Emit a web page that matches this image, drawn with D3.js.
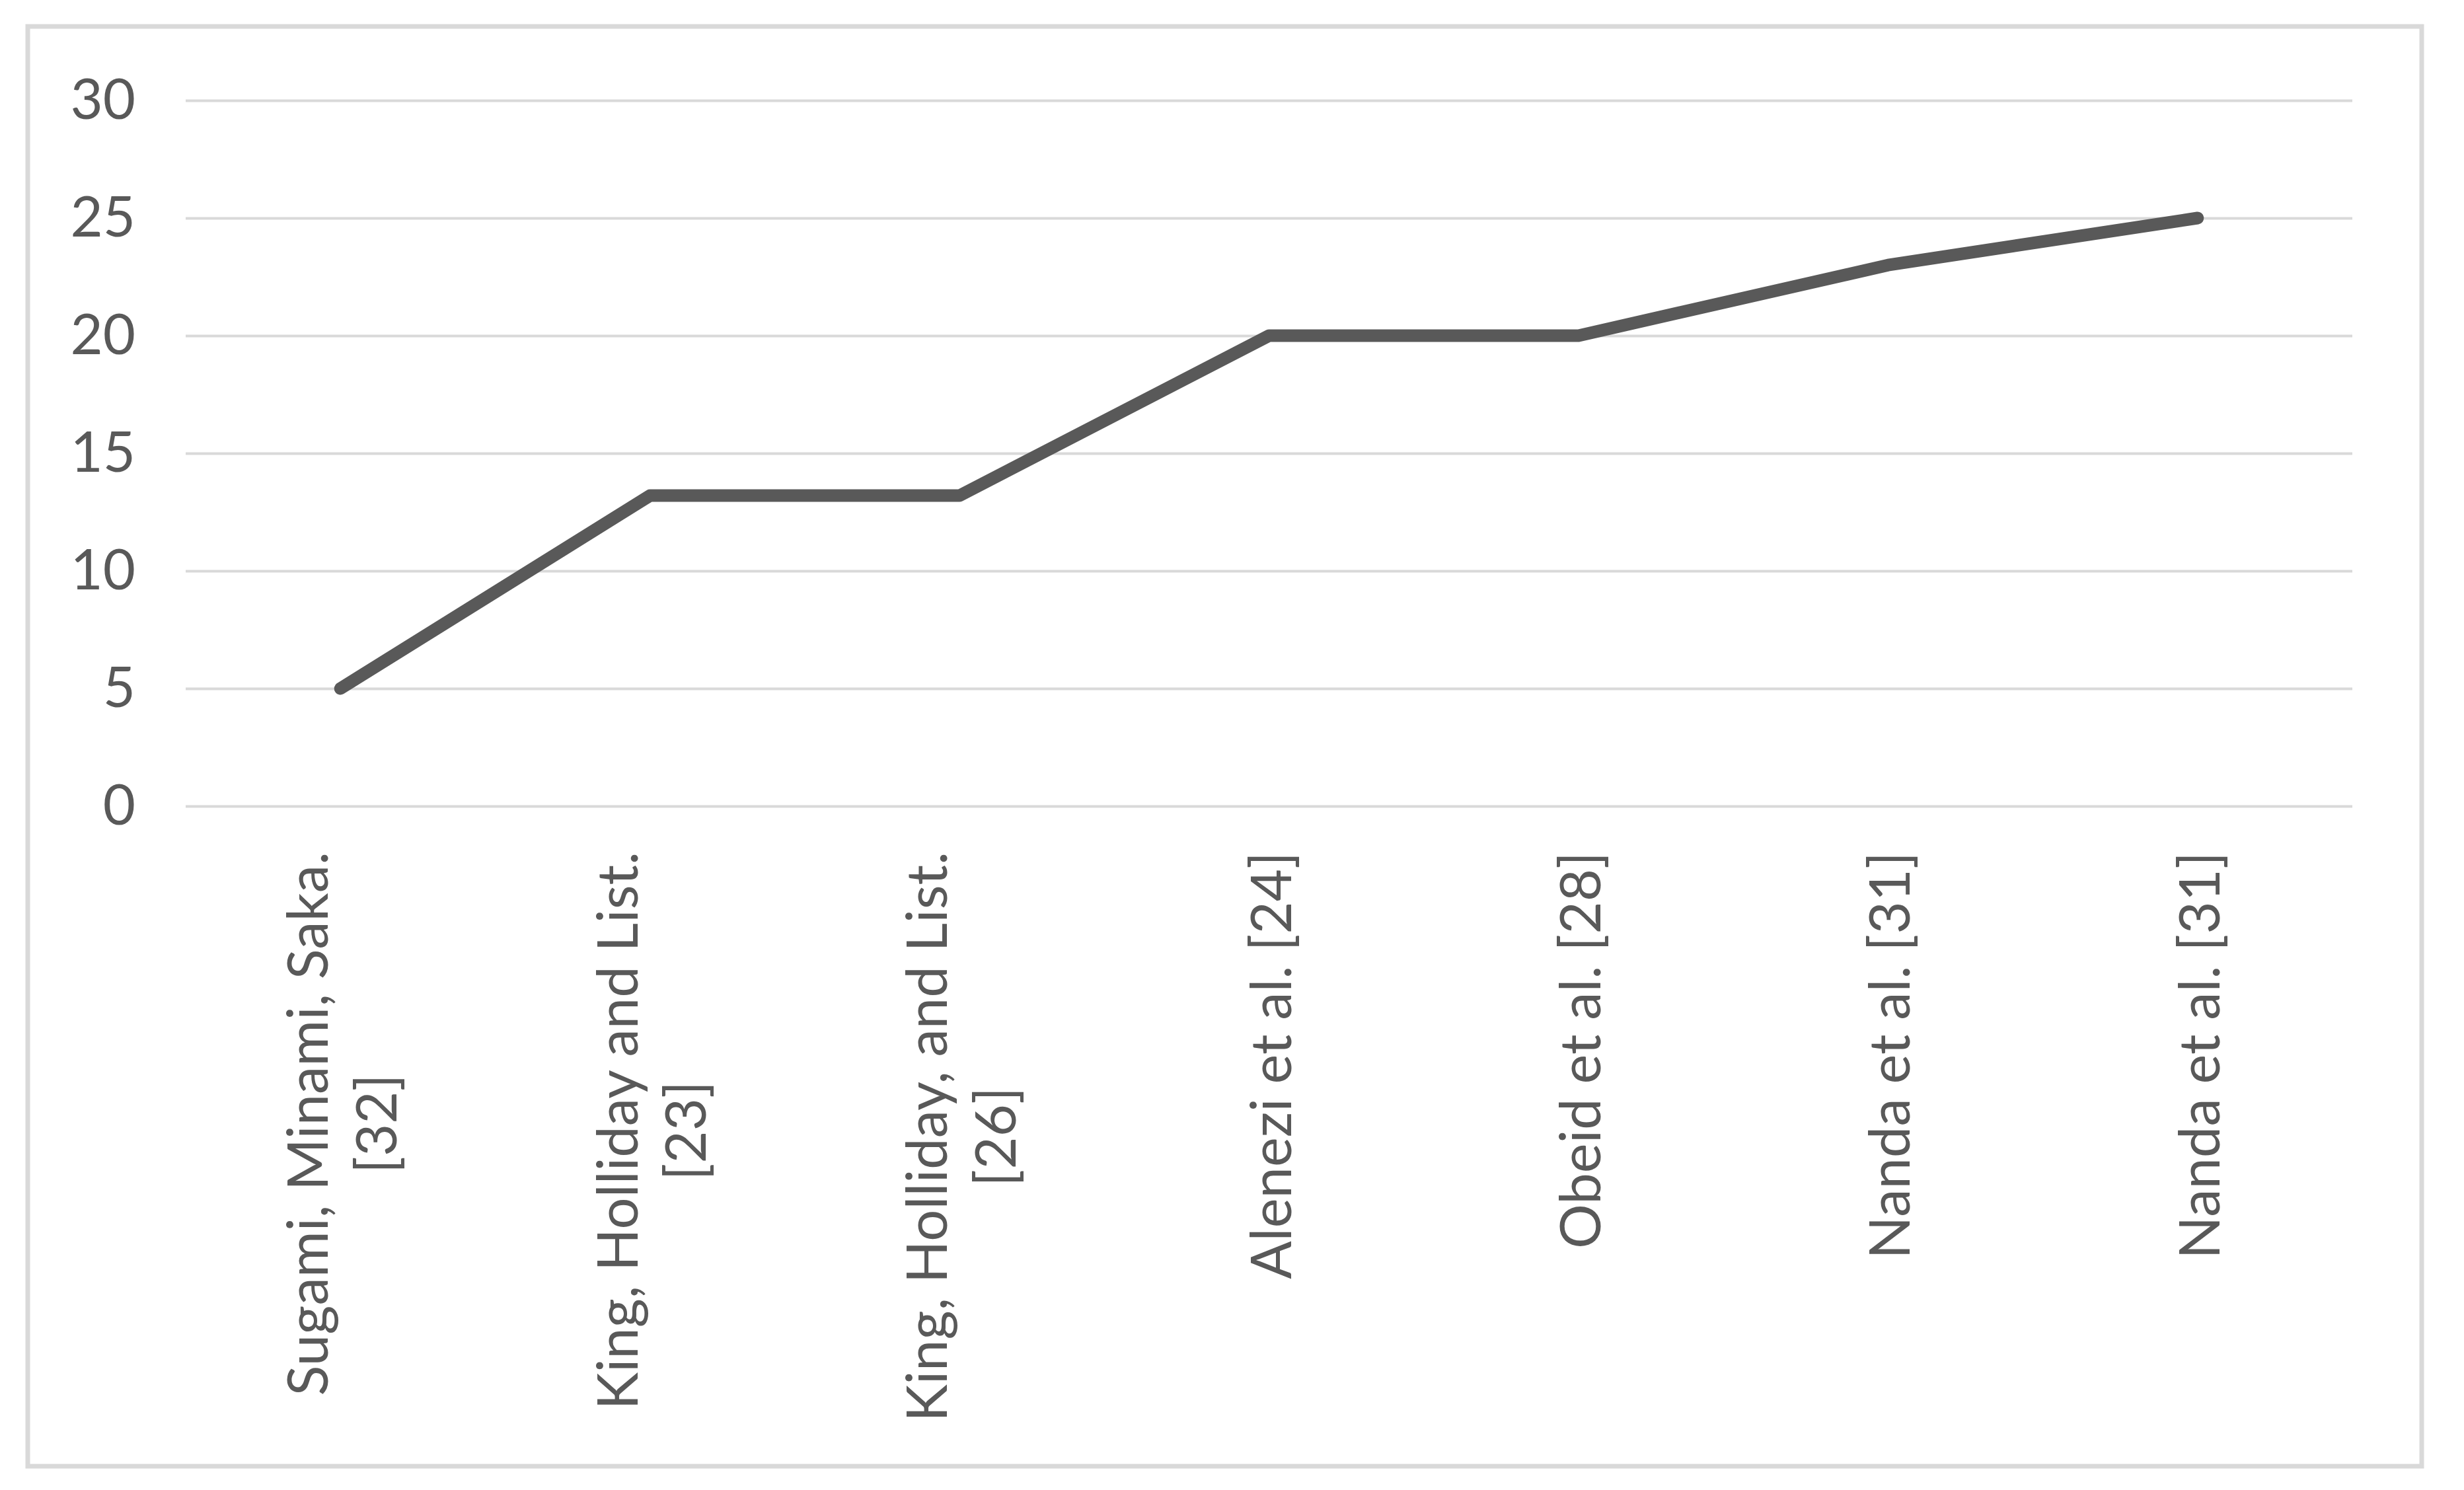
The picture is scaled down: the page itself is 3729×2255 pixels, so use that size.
<!DOCTYPE html>
<html>
<head>
<meta charset="utf-8">
<script src="https://cdn.jsdelivr.net/npm/d3@7"></script>
<style>
    body { margin: 0; background: #fff; }
    svg { display: block; }
</style>
</head>
<body>
<svg width="3729" height="2255"></svg>
<script>
const categories = [
    ["Sugami, Minami, Saka.", "[32]"],
    ["King, Holliday and List.", "[23]"],
    ["King, Holliday, and List.", "[26]"],
    ["Alenezi et al. [24]"],
    ["Obeid et al. [28]"],
    ["Nanda et al. [31]"],
    ["Nanda et al. [31]"],
];
const values = [5, 13.2, 13.2, 20, 20, 23, 25];
const yTicks = [0, 5, 10, 15, 20, 25, 30];

const svg = d3.select("svg");
const font = "Lato, 'Noto Sans', sans-serif";
const fontSize = 85;
const gray = "#595959";

// chart frame
svg.append("rect")
    .attr("x", 42).attr("y", 40)
    .attr("width", 3623).attr("height", 2179)
    .attr("fill", "white")
    .attr("stroke", "#d9d9d9")
    .attr("stroke-width", 7);

const plotLeft = 281, plotRight = 3560, plotTop = 152, plotBottom = 1220;

const x = d3.scaleBand()
    .domain(d3.range(categories.length))
    .range([plotLeft, plotRight]);

const y = d3.scaleLinear()
    .domain([0, 30])
    .range([plotBottom, plotTop]);

// gridlines + y labels
const yAxis = svg.append("g")
    .attr("transform", `translate(${plotLeft},0)`)
    .call(d3.axisLeft(y).tickValues(yTicks).tickSize(-(plotRight - plotLeft)).tickPadding(76));

yAxis.select(".domain").remove();
yAxis.selectAll(".tick line")
    .attr("stroke", "#d9d9d9")
    .attr("stroke-width", 4);
yAxis.selectAll(".tick text")
    .attr("fill", gray)
    .style("font-family", font)
    .style("font-size", fontSize + "px");

// category labels, rotated, wrapped lines centred on the longest one
const lineHeight = fontSize * 1.22;
const labels = svg.append("g")
    .selectAll("g")
    .data(categories)
    .enter().append("g")
    .attr("transform", (d, i) => `translate(${x(i) + x.bandwidth() / 2},1289) rotate(-90)`);

labels.each(function (lines) {
    const g = d3.select(this);
    const texts = g.selectAll("text")
        .data(lines)
        .enter().append("text")
        .attr("fill", gray)
        .style("font-family", font)
        .style("font-size", fontSize + "px")
        .attr("dominant-baseline", "central")
        .attr("y", (d, j) => (j - (lines.length - 1) / 2) * lineHeight)
        .text(d => d);
    const widths = texts.nodes().map(n => n.getComputedTextLength());
    const longest = d3.max(widths);
    texts
        .attr("text-anchor", "middle")
        .attr("x", -longest / 2);
});

// the line
const line = d3.line()
    .x((d, i) => x(i) + x.bandwidth() / 2)
    .y(d => y(d));

svg.append("path")
    .datum(values)
    .attr("d", line)
    .attr("fill", "none")
    .attr("stroke", gray)
    .attr("stroke-width", 19)
    .attr("stroke-linecap", "round")
    .attr("stroke-linejoin", "round");
</script>
</body>
</html>
